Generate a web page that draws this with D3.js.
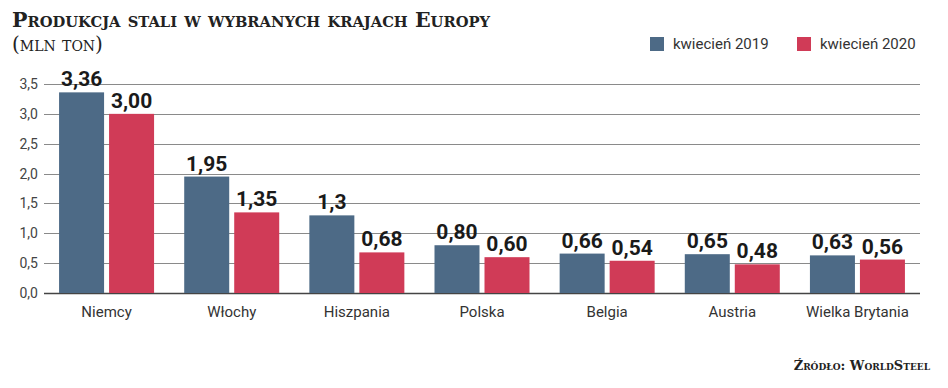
<!DOCTYPE html>
<html lang="pl">
<head>
  <meta charset="utf-8" />
  <title>Produkcja stali</title>
  <script src="https://cdn.jsdelivr.net/npm/d3@7"></script>
  <style>
    body { margin: 0; background: #fff; }
    .title { font-family: "DejaVu Serif", serif; font-weight: bold; font-variant: small-caps; fill: #222; }
    .sans { font-family: Roboto, "Open Sans", sans-serif; }
  </style>
</head>
<body>
<script>
  // DATA
  var countries = ["Niemcy", "Włochy", "Hiszpania", "Polska", "Belgia", "Austria", "Wielka Brytania"];
  var april2019 = [3.36, 1.95, 1.3, 0.80, 0.66, 0.65, 0.63];
  var april2020 = [3.00, 1.35, 0.68, 0.60, 0.54, 0.48, 0.56];
  var labels2019 = ["3,36", "1,95", "1,3", "0,80", "0,66", "0,65", "0,63"];
  var labels2020 = ["3,00", "1,35", "0,68", "0,60", "0,54", "0,48", "0,56"];
  var seriesNames = ["kwiecień 2019", "kwiecień 2020"];
  var yTicks = [0, 0.5, 1, 1.5, 2, 2.5, 3, 3.5];

  // CONFIG
  var width = 948, height = 388;
  var colors = ["#4d6a86", "#d03b57"];
  var barW = 45, barGap = 5;

  var svg = d3.select("body").append("svg")
      .attr("width", width)
      .attr("height", height);

  var x = d3.scaleBand().domain(countries).range([44, 920]);
  var y = d3.scaleLinear().domain([0, 3.5]).range([293, 84]);

  // title
  svg.append("text").attr("class", "title")
     .attr("x", 12).attr("y", 27)
     .style("font-size", "21px")
     .attr("textLength", 478).attr("lengthAdjust", "spacingAndGlyphs")
     .text("Produkcja stali w wybranych krajach Europy");
  svg.append("text").attr("class", "title")
     .attr("x", 12).attr("y", 51)
     .style("font-size", "20px").style("font-weight", "normal")
     .text("(mln ton)");

  // legend
  var legend = svg.append("g").selectAll("g")
      .data(seriesNames).enter()
      .append("g")
      .attr("transform", (d, i) => `translate(${[650, 797][i]}, 37)`);
  legend.append("rect")
      .attr("width", 14).attr("height", 14)
      .attr("fill", (d, i) => colors[i]);
  legend.append("text").attr("class", "sans")
      .attr("x", 23).attr("y", 12)
      .style("font-size", "15px").attr("fill", "#333")
      .text((d) => d);

  // gridlines
  svg.append("g").selectAll("line")
     .data(yTicks).enter()
     .append("line")
       .attr("x1", 44).attr("x2", 920)
       .attr("y1", (d) => Math.round(y(d)) + 0.5)
       .attr("y2", (d) => Math.round(y(d)) + 0.5)
       .attr("stroke", (d) => d === 0 ? "#444" : "#8a8a8a")
       .attr("stroke-width", (d) => d === 0 ? 1.5 : 1);

  // y labels
  svg.append("g").selectAll("text")
     .data(yTicks).enter()
     .append("text").attr("class", "sans")
       .attr("x", 38)
       .attr("y", (d) => y(d) + 5)
       .attr("text-anchor", "end")
       .style("font-size", "14px")
       .attr("fill", "#444")
       .text((d) => d3.format(".1f")(d).replace(".", ","));

  // bars
  var groups = svg.append("g").selectAll("g")
      .data(countries).enter()
      .append("g")
      .attr("transform", (d) => `translate(${x(d) + x.bandwidth() / 2}, 0)`);

  [april2019, april2020].forEach(function (vals, s) {
    var lbls = s === 0 ? labels2019 : labels2020;
    var off = s === 0 ? -barW - barGap / 2 : barGap / 2;
    groups.append("rect")
      .attr("x", off)
      .attr("y", (d, i) => y(vals[i]))
      .attr("width", barW)
      .attr("height", (d, i) => y(0) - y(vals[i]))
      .attr("fill", colors[s]);
    groups.append("text").attr("class", "sans")
      .attr("x", off + barW / 2)
      .attr("y", (d, i) => y(vals[i]) - 6)
      .attr("text-anchor", "middle")
      .style("font-size", "21px").style("font-weight", "bold")
      .attr("fill", "#1a1a1a")
      .text((d, i) => lbls[i]);
  });

  // category labels
  groups.append("text").attr("class", "sans")
    .attr("y", 317)
    .attr("text-anchor", "middle")
    .style("font-size", "15px")
    .attr("fill", "#333")
    .text((d) => d);

  // source
  svg.append("text").attr("class", "title")
     .attr("x", 930).attr("y", 370)
     .attr("text-anchor", "end")
     .style("font-size", "13px")
     .text("Źródło: WorldSteel");
</script>
</body>
</html>
